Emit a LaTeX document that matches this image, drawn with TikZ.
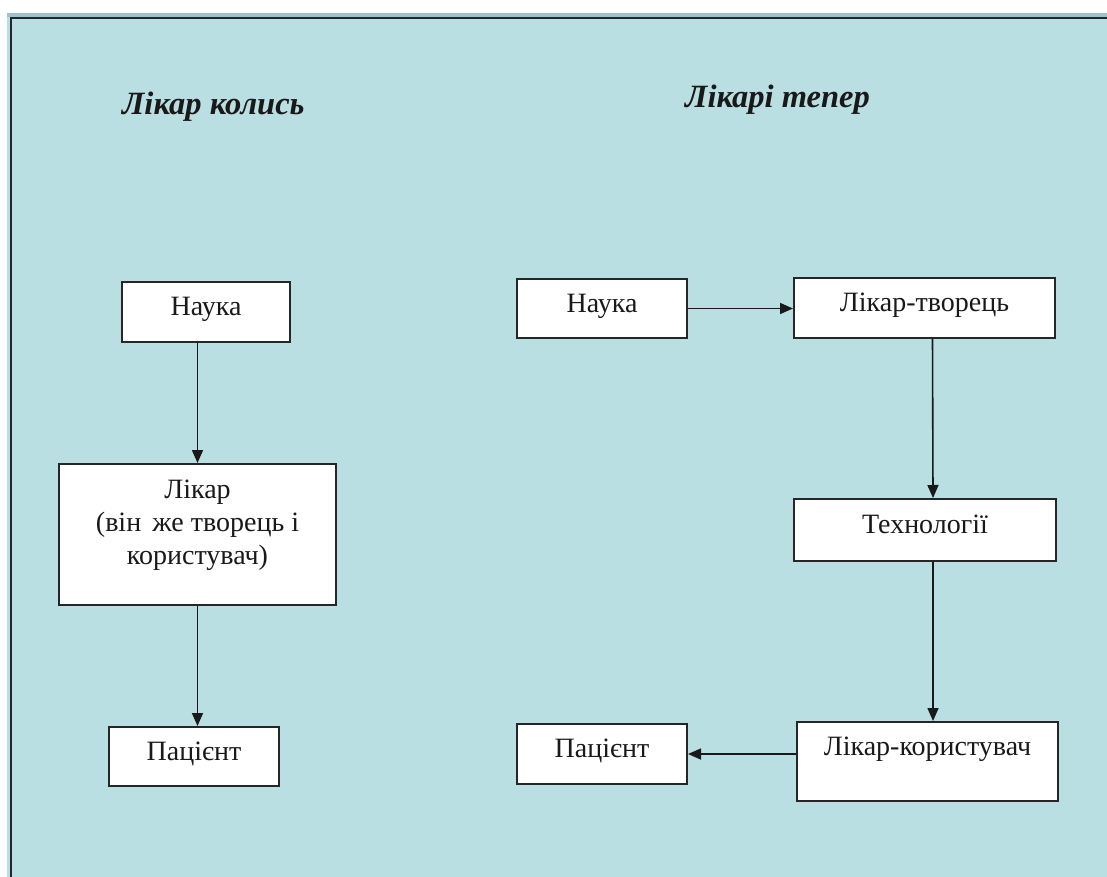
\documentclass[tikz,border=0pt]{standalone}
\usepackage{fontspec}
\setmainfont{Liberation Serif}
\usetikzlibrary{arrows.meta}
\definecolor{bg}{RGB}{186,223,226}
\definecolor{band}{RGB}{158,194,204}
\definecolor{framec}{RGB}{28,42,48}
\begin{document}
\begin{tikzpicture}[x=1pt,y=-1pt,
  box/.style={draw=black!85, line width=2pt, fill=white, inner sep=0pt,
    anchor=north west, font=\fontsize{28pt}{33pt}\selectfont, text=black!90, text height=33pt},
  ttl/.style={inner sep=0pt, anchor=base west, font=\fontsize{32.5pt}{38pt}\selectfont\bfseries\itshape, text=black!90},
  arr/.style={line width=1.6pt, draw=black!90, -{Triangle[length=13pt,width=11pt]}}]
\useasboundingbox (0,0) rectangle (1107,877);
\fill[white] (0,0) rectangle (1107,877);
\fill[bg] (7,13) rectangle (1107,877);
\fill[band] (7,13) rectangle (1107,17);
\draw[framec, line width=2pt] (10.5,877) -- (10.5,18.5) -- (1107,18.5);

\node[ttl] (t1) at (122,115) {Лікар колись};
\node[ttl] (t2) at (685,108) {Лікарі тепер};

\node[box, minimum width=168pt, text depth=27pt] (naukaA) at (121,281) {Наука};
\node[box, minimum width=277pt, text height=34pt, text depth=107pt] (likar) at (58,463)
  {\begin{tabular}[t]{@{}c@{}}Лікар\\(він\hspace{0.15em} же творець і\\користувач)\end{tabular}};
\node[box, minimum width=170pt, text depth=26pt] (patientA) at (108,726) {Пацієнт};

\node[box, minimum width=170pt, text depth=26pt] (naukaB) at (516,278) {Наука};
\node[box, minimum width=261pt, text depth=27pt] (tvorets) at (793,277) {Лікар-творець};
\node[box, minimum width=262pt, text height=34pt, text depth=28pt] (tech) at (793,498) {Технології};
\node[box, minimum width=261pt, text depth=46pt] (lk) at (796,721) {Лікар-користувач};
\node[box, minimum width=170pt, text depth=27pt] (patientB) at (516,723) {Пацієнт};

\draw[arr] (likar.north |- naukaA.south) -- (likar.north);
\draw[arr] (likar.south) -- (likar.south |- patientA.north);
\draw[arr] (naukaB.east) -- (naukaB.east -| tvorets.west);
\draw[arr] ([xshift=8pt]tvorets.south) -- ([xshift=8pt]tech.north);
\draw[arr] ([xshift=8pt]tech.south) -- ([xshift=8pt]tech.south |- lk.north);
\draw[arr] (lk.west |- patientB.east) -- (patientB.east);
\end{tikzpicture}
\end{document}
